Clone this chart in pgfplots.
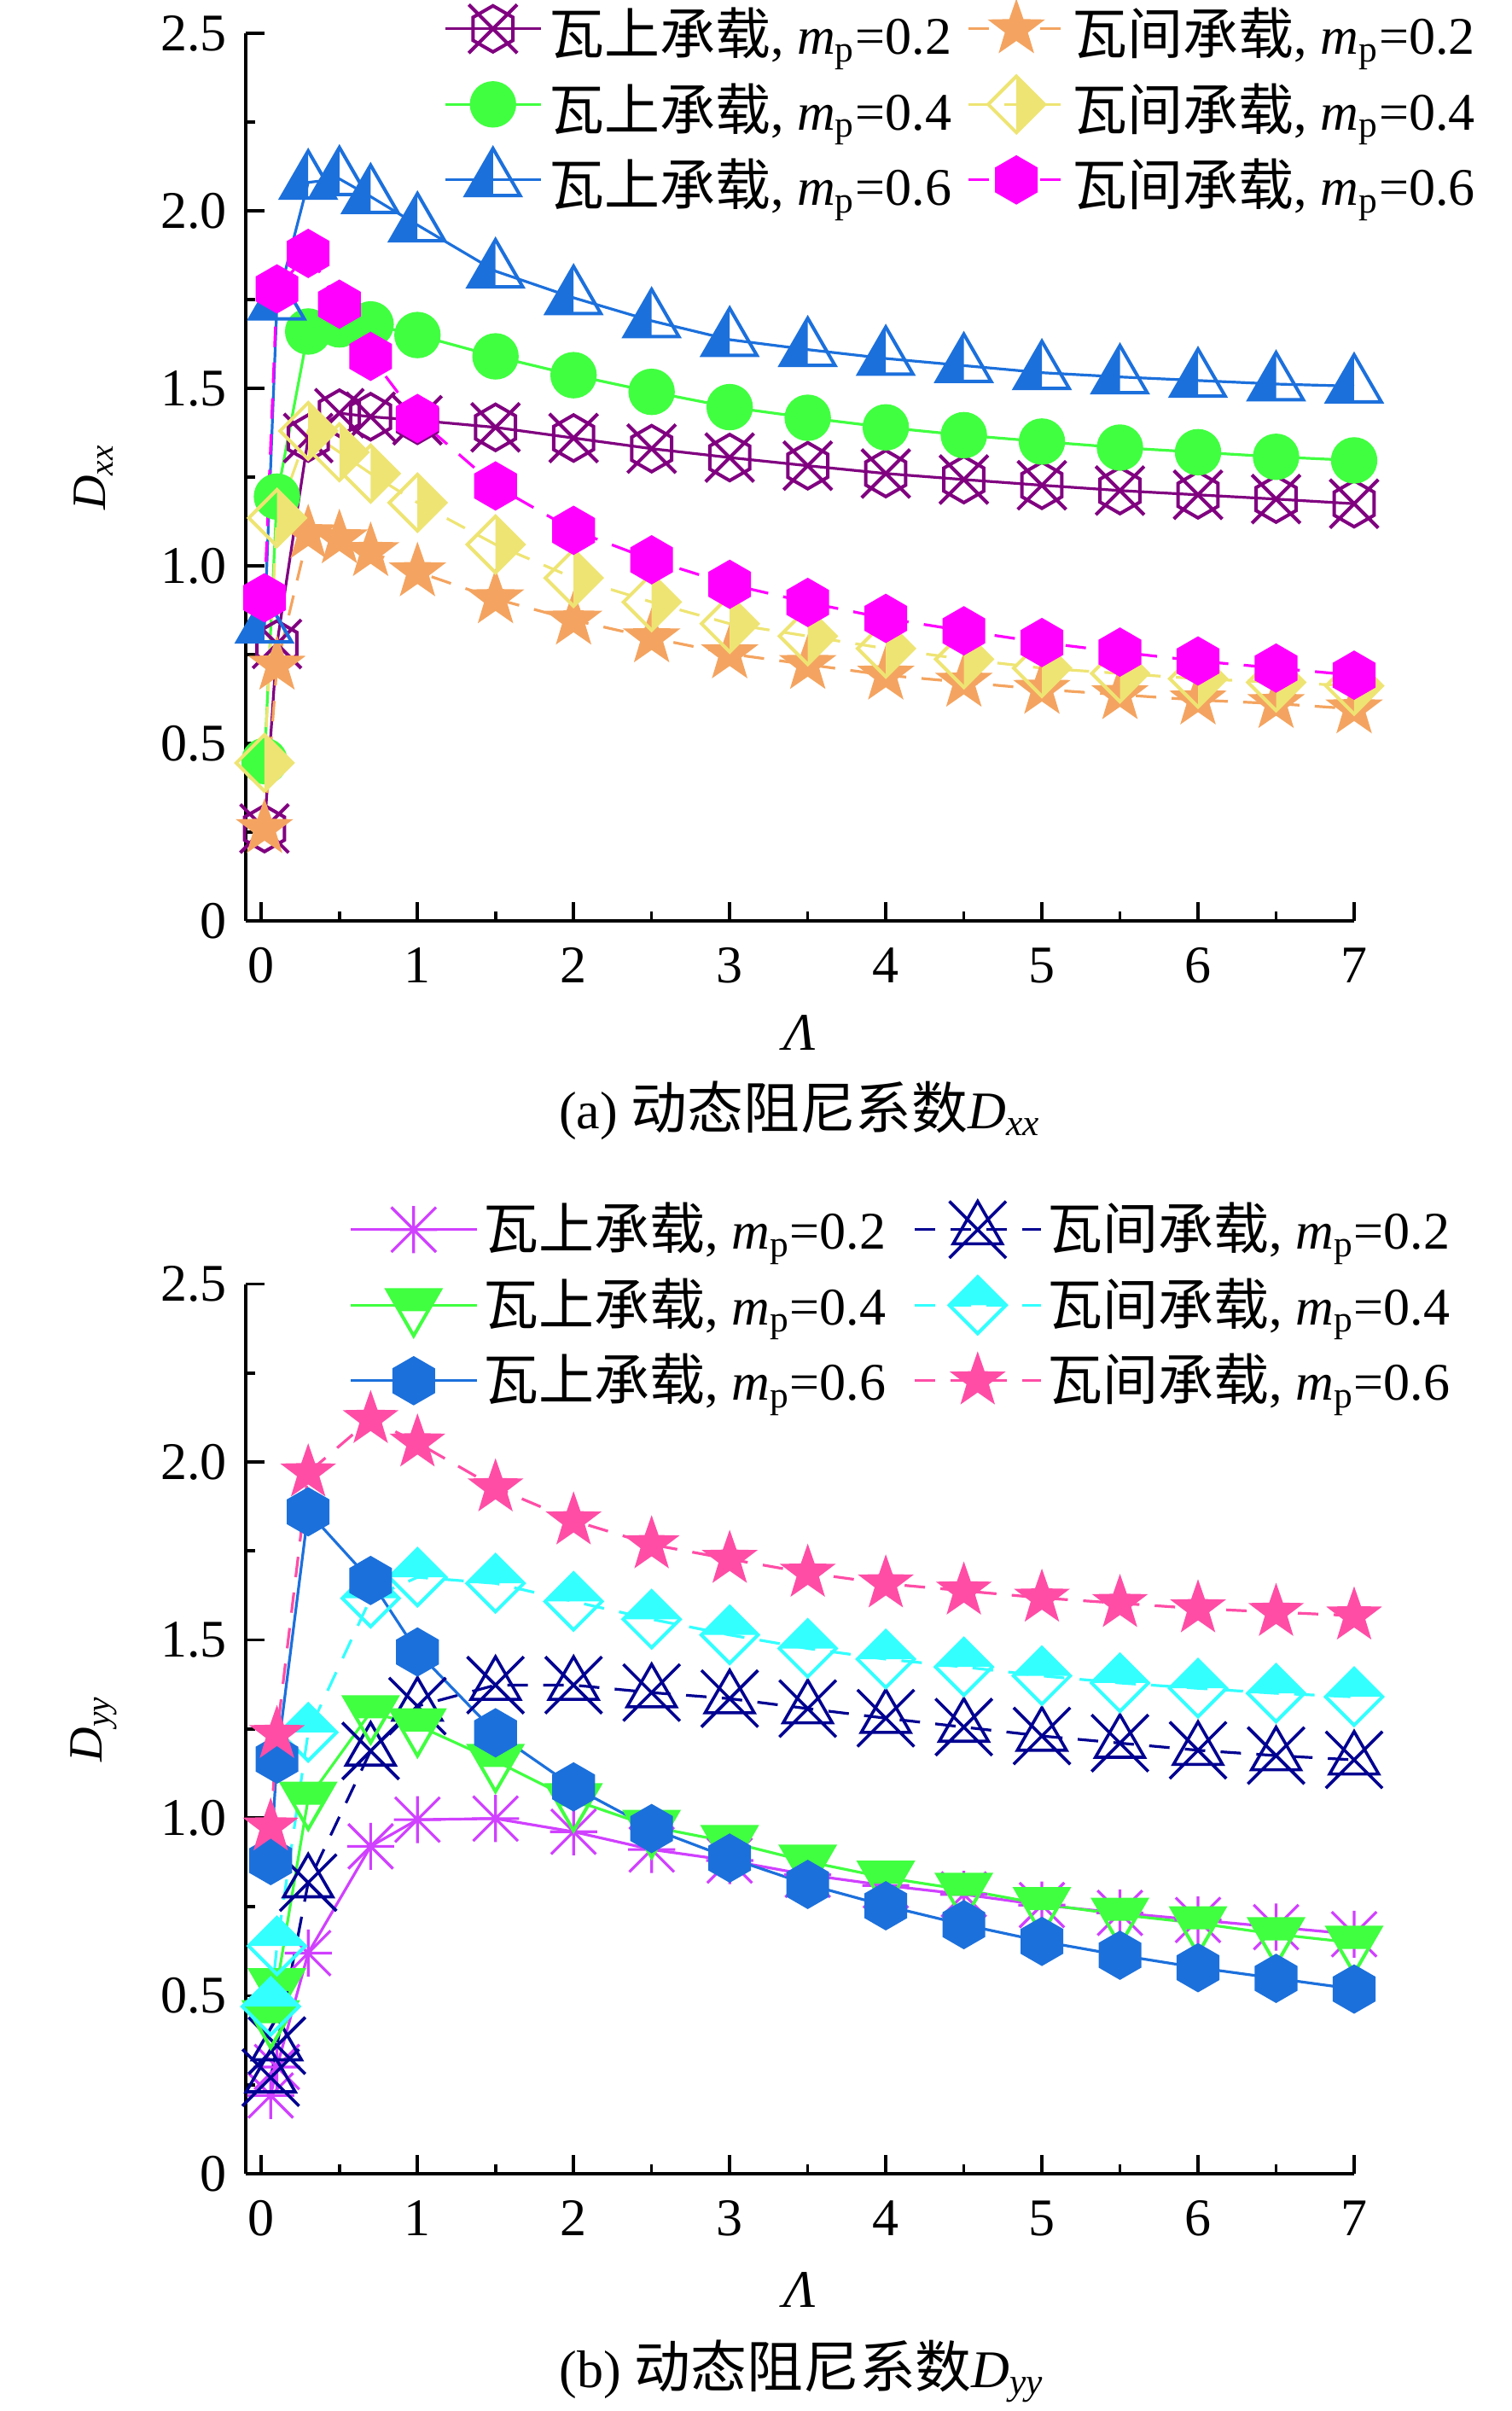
\documentclass[border=0pt]{standalone}
\usepackage{fontspec}
\setmainfont{Liberation Serif}
\newfontfamily\cjk[Scale=1.12]{Noto Sans CJK SC}
\usepackage{pgfplots}
\pgfplotsset{compat=1.18}

\definecolor{cPurple}{RGB}{128,0,128}
\definecolor{cOrange}{RGB}{244,164,96}
\definecolor{cGreen}{RGB}{64,255,64}
\definecolor{cYellow}{RGB}{238,228,115}
\definecolor{cBlue}{RGB}{28,112,220}
\definecolor{cMagenta}{RGB}{255,0,255}
\definecolor{cViolet}{RGB}{208,64,255}
\definecolor{cNavy}{RGB}{0,0,145}
\definecolor{cCyan}{RGB}{51,255,255}
\definecolor{cPink}{RGB}{255,77,166}

% hexagon with X
\pgfdeclareplotmark{hexx}{%
  \pgfpathmoveto{\pgfpointpolar{90}{\pgfplotmarksize}}%
  \pgfpathlineto{\pgfpointpolar{150}{\pgfplotmarksize}}%
  \pgfpathlineto{\pgfpointpolar{210}{\pgfplotmarksize}}%
  \pgfpathlineto{\pgfpointpolar{270}{\pgfplotmarksize}}%
  \pgfpathlineto{\pgfpointpolar{330}{\pgfplotmarksize}}%
  \pgfpathlineto{\pgfpointpolar{30}{\pgfplotmarksize}}%
  \pgfpathclose
  \pgfpathmoveto{\pgfqpoint{-1.05\pgfplotmarksize}{-1.05\pgfplotmarksize}}%
  \pgfpathlineto{\pgfqpoint{1.05\pgfplotmarksize}{1.05\pgfplotmarksize}}%
  \pgfpathmoveto{\pgfqpoint{-1.05\pgfplotmarksize}{1.05\pgfplotmarksize}}%
  \pgfpathlineto{\pgfqpoint{1.05\pgfplotmarksize}{-1.05\pgfplotmarksize}}%
  \pgfusepathqstroke}
% filled hexagon
\pgfdeclareplotmark{hexf}{%
  \pgfpathmoveto{\pgfpointpolar{90}{\pgfplotmarksize}}%
  \pgfpathlineto{\pgfpointpolar{150}{\pgfplotmarksize}}%
  \pgfpathlineto{\pgfpointpolar{210}{\pgfplotmarksize}}%
  \pgfpathlineto{\pgfpointpolar{270}{\pgfplotmarksize}}%
  \pgfpathlineto{\pgfpointpolar{330}{\pgfplotmarksize}}%
  \pgfpathlineto{\pgfpointpolar{30}{\pgfplotmarksize}}%
  \pgfpathclose\pgfusepathqfillstroke}
% filled 5-point star
\pgfdeclareplotmark{starf}{%
  \pgfpathmoveto{\pgfpointpolar{90}{\pgfplotmarksize}}%
  \pgfpathlineto{\pgfpointpolar{126}{0.4*\pgfplotmarksize}}%
  \pgfpathlineto{\pgfpointpolar{162}{\pgfplotmarksize}}%
  \pgfpathlineto{\pgfpointpolar{198}{0.4*\pgfplotmarksize}}%
  \pgfpathlineto{\pgfpointpolar{234}{\pgfplotmarksize}}%
  \pgfpathlineto{\pgfpointpolar{270}{0.4*\pgfplotmarksize}}%
  \pgfpathlineto{\pgfpointpolar{306}{\pgfplotmarksize}}%
  \pgfpathlineto{\pgfpointpolar{342}{0.4*\pgfplotmarksize}}%
  \pgfpathlineto{\pgfpointpolar{18}{\pgfplotmarksize}}%
  \pgfpathlineto{\pgfpointpolar{54}{0.4*\pgfplotmarksize}}%
  \pgfpathclose\pgfusepathqfillstroke}
% triangle, left half filled
\pgfdeclareplotmark{trilh}{%
  \pgfpathmoveto{\pgfqpoint{0pt}{\pgfplotmarksize}}%
  \pgfpathlineto{\pgfqpoint{-0.866\pgfplotmarksize}{-0.5\pgfplotmarksize}}%
  \pgfpathlineto{\pgfqpoint{0pt}{-0.5\pgfplotmarksize}}%
  \pgfpathclose\pgfusepathqfill
  \pgfpathmoveto{\pgfqpoint{0pt}{\pgfplotmarksize}}%
  \pgfpathlineto{\pgfqpoint{-0.866\pgfplotmarksize}{-0.5\pgfplotmarksize}}%
  \pgfpathlineto{\pgfqpoint{0.866\pgfplotmarksize}{-0.5\pgfplotmarksize}}%
  \pgfpathclose\pgfusepathqstroke}
% diamond, right half filled
\pgfdeclareplotmark{diarh}{%
  \pgfpathmoveto{\pgfqpoint{0pt}{\pgfplotmarksize}}%
  \pgfpathlineto{\pgfqpoint{\pgfplotmarksize}{0pt}}%
  \pgfpathlineto{\pgfqpoint{0pt}{-\pgfplotmarksize}}%
  \pgfpathclose\pgfusepathqfill
  \pgfpathmoveto{\pgfqpoint{0pt}{\pgfplotmarksize}}%
  \pgfpathlineto{\pgfqpoint{\pgfplotmarksize}{0pt}}%
  \pgfpathlineto{\pgfqpoint{0pt}{-\pgfplotmarksize}}%
  \pgfpathlineto{\pgfqpoint{-\pgfplotmarksize}{0pt}}%
  \pgfpathclose\pgfusepathqstroke}
% diamond, top half filled
\pgfdeclareplotmark{diath}{%
  \pgfpathmoveto{\pgfqpoint{-\pgfplotmarksize}{0pt}}%
  \pgfpathlineto{\pgfqpoint{0pt}{\pgfplotmarksize}}%
  \pgfpathlineto{\pgfqpoint{\pgfplotmarksize}{0pt}}%
  \pgfpathclose\pgfusepathqfill
  \pgfpathmoveto{\pgfqpoint{0pt}{\pgfplotmarksize}}%
  \pgfpathlineto{\pgfqpoint{\pgfplotmarksize}{0pt}}%
  \pgfpathlineto{\pgfqpoint{0pt}{-\pgfplotmarksize}}%
  \pgfpathlineto{\pgfqpoint{-\pgfplotmarksize}{0pt}}%
  \pgfpathclose\pgfusepathqstroke}
% down triangle, top part filled
\pgfdeclareplotmark{tridth}{%
  \pgfpathmoveto{\pgfqpoint{-0.866\pgfplotmarksize}{0.5\pgfplotmarksize}}%
  \pgfpathlineto{\pgfqpoint{0.866\pgfplotmarksize}{0.5\pgfplotmarksize}}%
  \pgfpathlineto{\pgfqpoint{0.462\pgfplotmarksize}{-0.2\pgfplotmarksize}}%
  \pgfpathlineto{\pgfqpoint{-0.462\pgfplotmarksize}{-0.2\pgfplotmarksize}}%
  \pgfpathclose\pgfusepathqfill
  \pgfpathmoveto{\pgfqpoint{0pt}{-\pgfplotmarksize}}%
  \pgfpathlineto{\pgfqpoint{-0.866\pgfplotmarksize}{0.5\pgfplotmarksize}}%
  \pgfpathlineto{\pgfqpoint{0.866\pgfplotmarksize}{0.5\pgfplotmarksize}}%
  \pgfpathclose\pgfusepathqstroke}
% triangle with X
\pgfdeclareplotmark{trix}{%
  \pgfpathmoveto{\pgfqpoint{0pt}{\pgfplotmarksize}}%
  \pgfpathlineto{\pgfqpoint{-0.866\pgfplotmarksize}{-0.5\pgfplotmarksize}}%
  \pgfpathlineto{\pgfqpoint{0.866\pgfplotmarksize}{-0.5\pgfplotmarksize}}%
  \pgfpathclose
  \pgfpathmoveto{\pgfqpoint{-\pgfplotmarksize}{-\pgfplotmarksize}}%
  \pgfpathlineto{\pgfqpoint{\pgfplotmarksize}{\pgfplotmarksize}}%
  \pgfpathmoveto{\pgfqpoint{-\pgfplotmarksize}{\pgfplotmarksize}}%
  \pgfpathlineto{\pgfqpoint{\pgfplotmarksize}{-\pgfplotmarksize}}%
  \pgfusepathqstroke}
% 8-arm asterisk
\pgfdeclareplotmark{ast8}{%
  \pgfpathmoveto{\pgfqpoint{-\pgfplotmarksize}{0pt}}%
  \pgfpathlineto{\pgfqpoint{\pgfplotmarksize}{0pt}}%
  \pgfpathmoveto{\pgfqpoint{0pt}{-\pgfplotmarksize}}%
  \pgfpathlineto{\pgfqpoint{0pt}{\pgfplotmarksize}}%
  \pgfpathmoveto{\pgfqpoint{-0.95\pgfplotmarksize}{-0.95\pgfplotmarksize}}%
  \pgfpathlineto{\pgfqpoint{0.95\pgfplotmarksize}{0.95\pgfplotmarksize}}%
  \pgfpathmoveto{\pgfqpoint{-0.95\pgfplotmarksize}{0.95\pgfplotmarksize}}%
  \pgfpathlineto{\pgfqpoint{0.95\pgfplotmarksize}{-0.95\pgfplotmarksize}}%
  \pgfusepathqstroke}

\newcommand{\leg}[2]{{\cjk\fontsize{14.5pt}{17pt}\selectfont #1}, \textit{m}\textsubscript{p}=#2}

\pgfplotsset{
  myax/.style={
    scale only axis, width=324.75pt,
    xmin=-0.1, xmax=7, ymin=0, ymax=2.5,
    axis lines=left, axis line style={-, line width=1pt, black},
    tick align=inside, major tick length=5.5pt, minor tick length=2.8pt,
    every tick/.style={black, line width=0.9pt},
    xtick={0,1,2,3,4,5,6,7}, minor x tick num=1,
    ytick={0,0.5,1,1.5,2,2.5}, yticklabels={0,0.5,1.0,1.5,2.0,2.5}, minor y tick num=1,
    /pgf/number format/assume math mode=true,
    ticklabel style={font=\fontsize{15.5pt}{18pt}\selectfont},
    xticklabel style={anchor=base, yshift=-18pt},
    yticklabel style={anchor=east, xshift=-2pt},
    xlabel style={font=\fontsize{15.5pt}{18pt}\selectfont, at={(axis description cs:0.5,0)}, anchor=base},
    ylabel style={font=\fontsize{14pt}{16pt}\selectfont, at={([xshift=-44.6pt]axis description cs:0,0.5)}, anchor=center},
    clip=false,
    legend cell align=left, legend columns=2,
  },
  dsh/.style={dash pattern=on 6pt off 4.5pt},
}

\begin{document}
\begin{tikzpicture}
\path[use as bounding box] (-72pt,-436.5pt) rectangle (371pt,269.75pt);

% ---------------- (a) Dxx ----------------
\begin{axis}[myax, height=260pt, at={(0pt,0pt)}, anchor=south west,
  xlabel={\textit{Λ}}, xlabel style={yshift=-37.75pt},
  ylabel={\textit{D}\textsubscript{\textit{xx}}},
  legend image code/.code={%
    \path[draw=none, fill=none] (0pt,-1pt) rectangle (28pt,1pt);
    \draw[#1] (0pt,0pt) -- (28pt,0pt);
    \draw[#1, overlay] plot coordinates {(14pt,0pt)};},
  legend style={at={(0.1781,1.0346)}, anchor=north west, draw=none, fill=none,
    inner sep=0pt, row sep=7.125pt, column sep=2pt,
    /tikz/every even column/.append style={column sep=4.6pt},
    font=\fontsize{15.5pt}{18pt}\selectfont,
    nodes={inner sep=0pt, text height=15pt, text depth=0pt}},
]
\addplot[cPurple, line width=0.8pt, mark=hexx, mark size=6.75pt, mark options={solid, line width=1pt}]
 coordinates {(0.02,0.26)(0.1,0.78)(0.3,1.36)(0.5,1.43)(0.7,1.42)(1,1.41)(1.5,1.39)(2,1.36)(2.5,1.33)(3,1.305)(3.5,1.282)(4,1.26)(4.5,1.243)(5,1.227)(5.5,1.212)(6,1.20)(6.5,1.188)(7,1.175)};
\addlegendentry{\leg{瓦上承载}{0.2}}
\addplot[cOrange, line width=0.8pt, dsh, mark=starf, mark size=8.25pt, mark options={solid, fill=cOrange, line width=0.4pt}]
 coordinates {(0.02,0.26)(0.1,0.72)(0.3,1.09)(0.5,1.076)(0.7,1.04)(1,0.983)(1.5,0.907)(2,0.847)(2.5,0.797)(3,0.752)(3.5,0.722)(4,0.692)(4.5,0.672)(5,0.652)(5.5,0.637)(6,0.622)(6.5,0.612)(7,0.597)};
\addlegendentry{\leg{瓦间承载}{0.2}}
\addplot[cGreen, line width=0.8pt, mark=*, mark size=6.6pt, mark options={solid, fill=cGreen, line width=0.4pt}]
 coordinates {(0.02,0.45)(0.1,1.195)(0.3,1.66)(0.5,1.68)(0.7,1.68)(1,1.65)(1.5,1.59)(2,1.537)(2.5,1.49)(3,1.447)(3.5,1.417)(4,1.39)(4.5,1.368)(5,1.35)(5.5,1.333)(6,1.32)(6.5,1.307)(7,1.297)};
\addlegendentry{\leg{瓦上承载}{0.4}}
\addplot[cYellow, line width=0.8pt, dsh, mark=diarh, mark size=8.25pt, mark options={solid, fill=cYellow, line width=1pt}]
 coordinates {(0.02,0.445)(0.1,1.135)(0.3,1.38)(0.5,1.32)(0.7,1.26)(1,1.178)(1.5,1.06)(2,0.966)(2.5,0.898)(3,0.837)(3.5,0.802)(4,0.767)(4.5,0.737)(5,0.712)(5.5,0.697)(6,0.682)(6.5,0.672)(7,0.662)};
\addlegendentry{\leg{瓦间承载}{0.4}}
\addplot[cBlue, line width=0.8pt, mark=trilh, mark size=9.2pt, mark options={solid, fill=cBlue, line width=1pt}]
 coordinates {(0.02,0.83)(0.1,1.74)(0.3,2.08)(0.5,2.09)(0.7,2.04)(1,1.96)(1.5,1.83)(2,1.755)(2.5,1.69)(3,1.637)(3.5,1.609)(4,1.584)(4.5,1.564)(5,1.544)(5.5,1.532)(6,1.522)(6.5,1.512)(7,1.506)};
\addlegendentry{\leg{瓦上承载}{0.6}}
\addplot[cMagenta, line width=0.8pt, dsh, mark=hexf, mark size=7pt, mark options={solid, fill=cMagenta, line width=0.4pt}]
 coordinates {(0.02,0.91)(0.1,1.78)(0.3,1.88)(0.5,1.737)(0.7,1.59)(1,1.415)(1.5,1.225)(2,1.10)(2.5,1.017)(3,0.948)(3.5,0.897)(4,0.852)(4.5,0.817)(5,0.784)(5.5,0.757)(6,0.732)(6.5,0.712)(7,0.692)};
\addlegendentry{\leg{瓦间承载}{0.6}}
\end{axis}
\node[anchor=base, font=\fontsize{15.5pt}{18pt}\selectfont] at (162.4pt,-60.75pt)
  {(a) {\cjk\fontsize{14.7pt}{18pt}\selectfont 动态阻尼系数}\textit{D}\textsubscript{\textit{xx}}};

% ---------------- (b) Dyy ----------------
\begin{axis}[myax, height=260.625pt, at={(0pt,-367pt)}, anchor=south west,
  xlabel={\textit{Λ}}, xlabel style={yshift=-39pt},
  ylabel={\textit{D}\textsubscript{\textit{yy}}},
  legend image code/.code={%
    \path[draw=none, fill=none] (0pt,-1pt) rectangle (37pt,1pt);
    \draw[#1] (0pt,0pt) -- (37pt,0pt);
    \draw[#1, overlay] plot coordinates {(18.5pt,0pt)};},
  legend style={at={(0.0927,1.0916)}, anchor=north west, draw=none, fill=none,
    inner sep=0pt, row sep=6.625pt, column sep=1.5pt,
    /tikz/every even column/.append style={column sep=8pt},
    font=\fontsize{15.5pt}{18pt}\selectfont,
    nodes={inner sep=0pt, text height=13.5pt, text depth=2pt}},
]
\addplot[cViolet, line width=0.8pt, mark=ast8, mark size=6.9pt, mark options={solid, line width=0.8pt}]
 coordinates {(0.06,0.22)(0.1,0.30)(0.3,0.62)(0.7,0.92)(1,0.995)(1.5,0.998)(2,0.961)(2.5,0.911)(3,0.88)(3.5,0.84)(4,0.81)(4.5,0.785)(5,0.755)(5.5,0.733)(6,0.713)(6.5,0.693)(7,0.673)};
\addlegendentry{\leg{瓦上承载}{0.2}}
\addplot[cNavy, line width=0.8pt, dsh, mark=trix, mark size=8.3pt, mark options={solid, line width=0.9pt}]
 coordinates {(0.06,0.27)(0.1,0.36)(0.3,0.818)(0.7,1.188)(1,1.314)(1.5,1.373)(2,1.373)(2.5,1.352)(3,1.335)(3.5,1.307)(4,1.28)(4.5,1.255)(5,1.23)(5.5,1.21)(6,1.19)(6.5,1.175)(7,1.163)};
\addlegendentry{\leg{瓦间承载}{0.2}}
\addplot[cGreen, line width=0.8pt, mark=tridth, mark size=8.95pt, mark options={solid, fill=cGreen, line width=1pt}]
 coordinates {(0.06,0.44)(0.1,0.53)(0.3,1.054)(0.7,1.297)(1,1.26)(1.5,1.16)(2,1.05)(2.5,0.975)(3,0.932)(3.5,0.877)(4,0.832)(4.5,0.798)(5,0.758)(5.5,0.728)(6,0.704)(6.5,0.673)(7,0.649)};
\addlegendentry{\leg{瓦上承载}{0.4}}
\addplot[cCyan, line width=0.8pt, dsh, mark=diath, mark size=8.3pt, mark options={solid, fill=cCyan, line width=1pt}]
 coordinates {(0.06,0.47)(0.1,0.64)(0.3,1.24)(0.7,1.617)(1,1.676)(1.5,1.659)(2,1.608)(2.5,1.558)(3,1.514)(3.5,1.476)(4,1.446)(4.5,1.424)(5,1.399)(5.5,1.379)(6,1.364)(6.5,1.35)(7,1.34)};
\addlegendentry{\leg{瓦间承载}{0.4}}
\addplot[cBlue, line width=0.8pt, mark=hexf, mark size=7pt, mark options={solid, fill=cBlue, line width=0.4pt}]
 coordinates {(0.06,0.88)(0.1,1.165)(0.3,1.86)(0.7,1.667)(1,1.466)(1.5,1.239)(2,1.087)(2.5,0.97)(3,0.887)(3.5,0.813)(4,0.753)(4.5,0.70)(5,0.653)(5.5,0.614)(6,0.579)(6.5,0.549)(7,0.519)};
\addlegendentry{\leg{瓦上承载}{0.6}}
\addplot[cPink, line width=0.8pt, dsh, mark=starf, mark size=8pt, mark options={solid, fill=cPink, line width=0.4pt}]
 coordinates {(0.06,0.975)(0.1,1.235)(0.3,1.97)(0.7,2.12)(1,2.054)(1.5,1.928)(2,1.835)(2.5,1.768)(3,1.727)(3.5,1.688)(4,1.658)(4.5,1.638)(5,1.618)(5.5,1.603)(6,1.588)(6.5,1.578)(7,1.568)};
\addlegendentry{\leg{瓦间承载}{0.6}}
\end{axis}
\node[anchor=base, font=\fontsize{15.5pt}{18pt}\selectfont] at (163pt,-429.5pt)
  {(b) {\cjk\fontsize{14.7pt}{18pt}\selectfont 动态阻尼系数}\textit{D}\textsubscript{\textit{yy}}};
\end{tikzpicture}
\end{document}
